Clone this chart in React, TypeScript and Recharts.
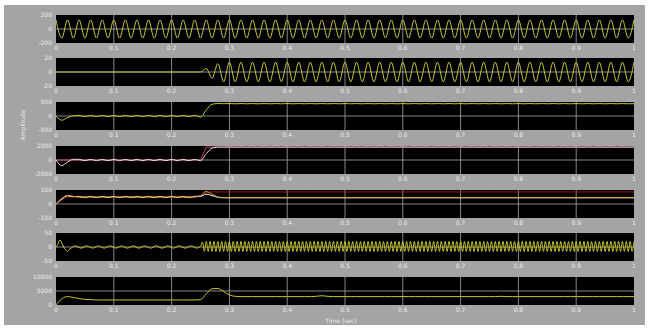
import { CartesianGrid, Line, LineChart, XAxis, YAxis } from "recharts";

// sample spacing used by each record (seconds)
const STEP = 0.01;
const STEP_FAST = 0.01 / 3;

const X_TICKS = [0, 0.1, 0.2, 0.3, 0.4, 0.5, 0.6, 0.7, 0.8, 0.9, 1];

// source voltage, 50 Hz (one value per half period)
const sourceV = [
  130, -130, 130, -130, 130, -130, 130, -130, 130, -130, 130, -130, 130, -130, 130, -130, 130, -130, 130, -130,
  130, -130, 130, -130, 130, -130, 130, -130, 130, -130, 130, -130, 130, -130, 130, -130, 130, -130, 130, -130,
  130, -130, 130, -130, 130, -130, 130, -130, 130, -130, 130, -130, 130, -130, 130, -130, 130, -130, 130, -130,
  130, -130, 130, -130, 130, -130, 130, -130, 130, -130, 130, -130, 130, -130, 130, -130, 130, -130, 130, -130,
  130, -130, 130, -130, 130, -130, 130, -130, 130, -130, 130, -130, 130, -130, 130, -130, 130, -130, 130, -130,
  130,
];

// injected current, switched in at 0.25 s
const injectedI = [
  0, 0, 0, 0, 0, 0, 0, 0, 0, 0, 0, 0, 0, 0, 0, 0, 0, 0, 0, 0,
  0, 0, 0, 0, 0, 0, 5, -9, 12, -14, 14, -14, 14, -14, 14, -14, 14, -14, 14, -14,
  14, -14, 14, -14, 14, -14, 14, -14, 14, -14, 14, -14, 14, -14, 14, -14, 14, -14, 14, -14,
  14, -14, 14, -14, 14, -14, 14, -14, 14, -14, 14, -14, 14, -14, 14, -14, 14, -14, 14, -14,
  14, -14, 14, -14, 14, -14, 14, -14, 14, -14, 14, -14, 14, -14, 14, -14, 14, -14, 14, -14,
  14,
];

const powerP = [
  0, -150, -60, 10, 20, -20, 20, -20, 20, -20, 20, -20, 20, -20, 20, -20, 20, -20, 20, -20,
  20, -20, 20, -20, 20, -40, 220, 420, 445, 440, 444, 436, 444, 436, 444, 436, 444, 436, 444, 436,
  444, 436, 444, 436, 444, 436, 444, 436, 444, 436, 444, 436, 444, 436, 444, 436, 444, 436, 444, 436,
  444, 436, 444, 436, 444, 436, 444, 436, 444, 436, 444, 436, 444, 436, 444, 436, 444, 436, 444, 436,
  444, 436, 444, 436, 444, 436, 444, 436, 444, 436, 444, 436, 444, 436, 444, 436, 444, 436, 444, 436,
  440,
];

const dcRef = [
  0, 0, 0, 0, 0, 0, 0, 0, 0, 0, 0, 0, 0, 0, 0, 0, 0, 0, 0, 0,
  0, 0, 0, 0, 0, 0, 1850, 1850, 1850, 1850, 1850, 1850, 1850, 1850, 1850, 1850, 1850, 1850, 1850, 1850,
  1850, 1850, 1850, 1850, 1850, 1850, 1850, 1850, 1850, 1850, 1850, 1850, 1850, 1850, 1850, 1850, 1850, 1850, 1850, 1850,
  1850, 1850, 1850, 1850, 1850, 1850, 1850, 1850, 1850, 1850, 1850, 1850, 1850, 1850, 1850, 1850, 1850, 1850, 1850, 1850,
  1850, 1850, 1850, 1850, 1850, 1850, 1850, 1850, 1850, 1850, 1850, 1850, 1850, 1850, 1850, 1850, 1850, 1850, 1850, 1850,
  1850,
];

const dcMeas = [
  0, -800, -300, 100, 100, -100, 100, -100, 100, -100, 100, -100, 100, -100, 100, -100, 100, -100, 100, -100,
  100, -100, 100, -100, 100, -100, 900, 1700, 1850, 1830, 1870, 1830, 1870, 1830, 1870, 1830, 1870, 1830, 1870, 1830,
  1870, 1830, 1870, 1830, 1870, 1830, 1870, 1830, 1870, 1830, 1870, 1830, 1870, 1830, 1870, 1830, 1870, 1830, 1870, 1830,
  1870, 1830, 1870, 1830, 1870, 1830, 1870, 1830, 1870, 1830, 1870, 1830, 1870, 1830, 1870, 1830, 1870, 1830, 1870, 1830,
  1870, 1830, 1870, 1830, 1870, 1830, 1870, 1830, 1870, 1830, 1870, 1830, 1870, 1830, 1870, 1830, 1870, 1830, 1870, 1830,
  1850,
];

const qRed = [
  0, 30, 50, 52, 50, 50, 50, 50, 50, 50, 50, 50, 50, 50, 50, 50, 50, 50, 50, 50,
  50, 50, 50, 50, 50, 55, 80, 86, 86, 86, 86, 86, 86, 86, 86, 86, 86, 86, 86, 86,
  86, 86, 86, 86, 86, 86, 86, 86, 86, 86, 86, 86, 86, 86, 86, 86, 86, 86, 86, 86,
  86, 86, 86, 86, 86, 86, 86, 86, 86, 86, 86, 86, 86, 86, 86, 86, 86, 86, 86, 86,
  86, 86, 86, 86, 86, 86, 86, 86, 86, 86, 86, 86, 86, 86, 86, 86, 86, 86, 86, 86,
  86,
];

const qWhite = [
  0, 35, 58, 52, 55, 45, 55, 45, 55, 45, 55, 45, 55, 45, 55, 45, 55, 45, 55, 45,
  55, 45, 55, 45, 55, 55, 70, 60, 48, 44, 44, 44, 44, 44, 44, 44, 44, 44, 44, 44,
  44, 44, 44, 44, 44, 44, 44, 44, 44, 44, 44, 44, 44, 44, 44, 44, 44, 44, 44, 44,
  44, 44, 44, 44, 44, 44, 44, 44, 44, 44, 44, 44, 44, 44, 44, 44, 44, 44, 44, 44,
  44, 44, 44, 44, 44, 44, 44, 44, 44, 44, 44, 44, 44, 44, 44, 44, 44, 44, 44, 44,
  44,
];

const qYellow = [
  0, 40, 62, 55, 50, 50, 50, 50, 50, 50, 50, 50, 50, 50, 50, 50, 50, 50, 50, 50,
  50, 50, 50, 50, 50, 60, 90, 70, 50, 46, 46, 46, 46, 46, 46, 46, 46, 46, 46, 46,
  46, 46, 46, 46, 46, 46, 46, 46, 46, 46, 46, 46, 46, 46, 46, 46, 46, 46, 46, 46,
  46, 46, 46, 46, 46, 46, 46, 46, 46, 46, 46, 46, 46, 46, 46, 46, 46, 46, 46, 46,
  46, 46, 46, 46, 46, 46, 46, 46, 46, 46, 46, 46, 46, 46, 46, 46, 46, 46, 46, 46,
  46,
];

// load current with harmonics (sampled at STEP_FAST)
const harmI = [
  0, 10, 25, 15, 0, -10, -15, -8, -3, 2, 4, 2, -2, -4, -2, 2, 4, 2, -2, -4,
  -2, 2, 4, 2, -2, -4, -2, 2, 4, 2, -2, -4, -2, 2, 4, 2, -2, -4, -2, 2,
  4, 2, -2, -4, -2, 2, 4, 2, -2, -4, -2, 2, 4, 2, -2, -4, -2, 2, 4, 2,
  -2, -4, -2, 2, 4, 2, -2, -4, -2, 2, 4, 2, -2, -4, -2, 2, 18, -15, 20, -16,
  20, -16, 20, -16, 20, -16, 20, -16, 20, -16, 20, -16, 20, -16, 20, -16, 20, -16, 20, -16,
  20, -16, 20, -16, 20, -16, 20, -16, 20, -16, 20, -16, 20, -16, 20, -16, 20, -16, 20, -16,
  20, -16, 20, -16, 20, -16, 20, -16, 20, -16, 20, -16, 20, -16, 20, -16, 20, -16, 20, -16,
  20, -16, 20, -16, 20, -16, 20, -16, 20, -16, 20, -16, 20, -16, 20, -16, 20, -16, 20, -16,
  20, -16, 20, -16, 20, -16, 20, -16, 20, -16, 20, -16, 20, -16, 20, -16, 20, -16, 20, -16,
  20, -16, 20, -16, 20, -16, 20, -16, 20, -16, 20, -16, 20, -16, 20, -16, 20, -16, 20, -16,
  20, -16, 20, -16, 20, -16, 20, -16, 20, -16, 20, -16, 20, -16, 20, -16, 20, -16, 20, -16,
  20, -16, 20, -16, 20, -16, 20, -16, 20, -16, 20, -16, 20, -16, 20, -16, 20, -16, 20, -16,
  20, -16, 20, -16, 20, -16, 20, -16, 20, -16, 20, -16, 20, -16, 20, -16, 20, -16, 20, -16,
  20, -16, 20, -16, 20, -16, 20, -16, 20, -16, 20, -16, 20, -16, 20, -16, 20, -16, 20, -16,
  20, -16, 20, -16, 20, -16, 20, -16, 20, -16, 20, -16, 20, -16, 20, -16, 20, -16, 20, -16,
  20,
];

const speed = [
  0, 2200, 3000, 2700, 2300, 2000, 1900, 1800, 1800, 1800, 1800, 1800, 1800, 1800, 1800, 1800, 1800, 1800, 1800, 1800,
  1800, 1800, 1800, 1800, 1800, 1900, 4000, 5800, 5900, 4800, 3600, 3100, 3000, 3000, 3000, 3000, 3000, 3000, 3000, 3000,
  3000, 3000, 3000, 3000, 3000, 3100, 3300, 3100, 3000, 3000, 3000, 3000, 3000, 3000, 3000, 3000, 3000, 3000, 3000, 3000,
  3000, 3000, 3000, 3000, 3000, 3000, 3000, 3000, 3000, 3000, 3000, 3000, 3000, 3000, 3000, 3000, 3000, 3100, 3000, 3000,
  3000, 3000, 3000, 3000, 3000, 3000, 3000, 3000, 3000, 3000, 3000, 3000, 3000, 3000, 3000, 3000, 3000, 3000, 3000, 3000,
  3000,
];

const Y_TICKS_1 = [-200, 0, 200];
const Y_TICKS_2 = [-20, 0, 20];
const Y_TICKS_3 = [-500, 0, 500];
const Y_TICKS_4 = [-2000, 0, 2000];
const Y_TICKS_5 = [-100, 0, 100];
const Y_TICKS_6 = [-50, 0, 50];
const Y_TICKS_7 = [0, 5000, 10000];

const YELLOW = "#c8c828";
const BG = "#a4a4a4";
const GRID = "#a8a8a8";
const TEXT = "#ececec";

type Series = { values: number[]; color: string; linear?: boolean };

function rows(series: Series[], step: number) {
  return series[0].values.map((_, i) => {
    const r: Record<string, number> = { t: +(i * step).toFixed(5) };
    series.forEach((s, k) => (r["s" + k] = s.values[i]));
    return r;
  });
}

const panels = [
  { top: 15, ticks: Y_TICKS_1, step: STEP, series: [{ values: sourceV, color: YELLOW }] },
  { top: 58, ticks: Y_TICKS_2, step: STEP, series: [{ values: injectedI, color: YELLOW }] },
  { top: 102, ticks: Y_TICKS_3, step: STEP, series: [{ values: powerP, color: YELLOW }] },
  {
    top: 146,
    ticks: Y_TICKS_4,
    step: STEP,
    series: [
      { values: dcRef, color: "#c83c78", linear: true },
      { values: dcMeas, color: "#e8dce4" },
    ],
  },
  {
    top: 190,
    ticks: Y_TICKS_5,
    step: STEP,
    series: [
      { values: qRed, color: "#a01818" },
      { values: qWhite, color: "#ece4d8" },
      { values: qYellow, color: "#d8a830" },
    ],
  },
  { top: 233, ticks: Y_TICKS_6, step: STEP_FAST, series: [{ values: harmI, color: YELLOW }] },
  { top: 277, ticks: Y_TICKS_7, step: STEP, series: [{ values: speed, color: YELLOW }] },
];

const PLOT_H = 28;
const MT = 6;
const XH = 12;

function Panel({ p }: { p: (typeof panels)[number] }) {
  const data = rows(p.series, p.step);
  const ticks = p.ticks;
  return (
    <div style={{ position: "absolute", left: 4, top: p.top - MT }}>
      <LineChart width={641} height={MT + PLOT_H + XH} data={data} margin={{ top: MT, right: 11, bottom: 0, left: 0 }}>
        <CartesianGrid
          fill="#000"
          stroke={GRID}
          strokeWidth={0.8}
          verticalValues={X_TICKS.slice(1, -1)}
          horizontalValues={[ticks[1]]}
        />
        <XAxis
          dataKey="t"
          type="number"
          domain={[0, 1]}
          ticks={X_TICKS}
          tickFormatter={(v) => String(v)}
          axisLine={false}
          tickLine={false}
          tickSize={2}
          tickMargin={1}
          height={XH}
          interval={0}
          tick={{ fill: TEXT, fontSize: 6, fontFamily: "DejaVu Sans" }}
        />
        <YAxis
          type="number"
          domain={[ticks[0], ticks[2]]}
          ticks={ticks}
          width={52}
          axisLine={false}
          tickLine={false}
          tickSize={2}
          tickMargin={2}
          interval={0}
          allowDataOverflow
          tick={{ fill: TEXT, fontSize: 6, fontFamily: "DejaVu Sans" }}
        />
        {p.series.map((s, k) => (
          <Line
            key={k}
            dataKey={"s" + k}
            type={s.linear ? "linear" : "monotone"}
            stroke={s.color}
            strokeWidth={1}
            dot={false}
            isAnimationActive={false}
          />
        ))}
      </LineChart>
    </div>
  );
}

export default function App() {
  return (
    <div style={{ position: "fixed", left: 0, top: 0, width: 649, height: 329, background: "#fff" }}>
      <div style={{ position: "absolute", left: 4, top: 5, width: 641, height: 320, background: BG }} />
      {panels.map((p, i) => (
        <Panel key={i} p={p} />
      ))}
      <div
        style={{
          position: "absolute",
          left: 22,
          top: 125,
          transform: "translate(-50%, -50%) rotate(-90deg)",
          color: TEXT,
          fontSize: 6,
          fontFamily: "DejaVu Sans",
          whiteSpace: "nowrap",
        }}
      >
        Amplitude
      </div>
      <div
        style={{
          position: "absolute",
          left: 341,
          top: 320,
          transform: "translate(-50%, -50%)",
          color: TEXT,
          fontSize: 6,
          fontFamily: "DejaVu Sans",
          whiteSpace: "nowrap",
        }}
      >
        Time (sec)
      </div>
    </div>
  );
}
